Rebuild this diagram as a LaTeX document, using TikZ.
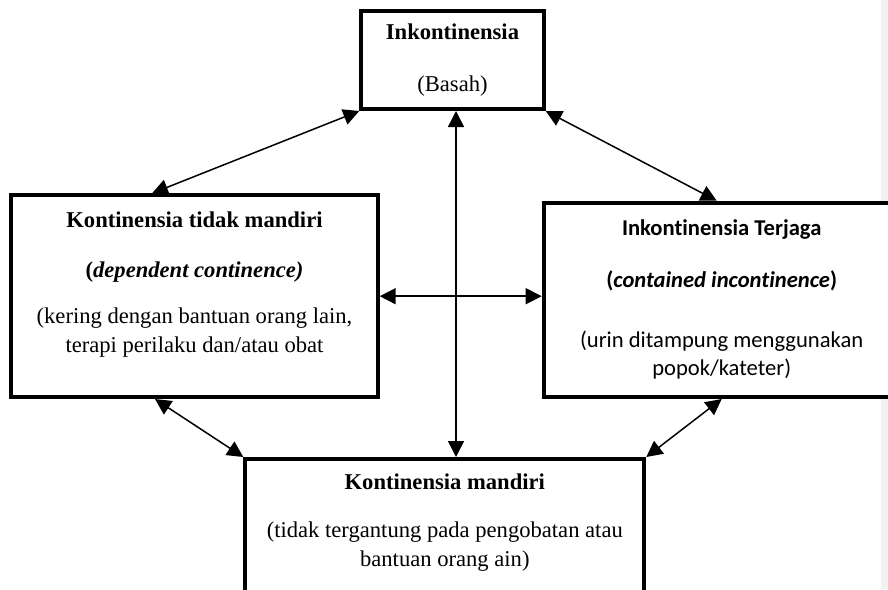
\documentclass[tikz,border=0pt]{standalone}
\usepackage{fontspec}
\setmainfont{Liberation Serif}
\newfontfamily\calibri[Ligatures=NoCommon]{Carlito}
\usetikzlibrary{arrows.meta, positioning}

\begin{document}
\begin{tikzpicture}[
    x=0.5pt, y=-0.5pt,
    box/.style={rectangle, draw=black, line width=2pt, fill=white, align=center, font=\fontsize{11.3}{14.75}\selectfont},
    arrow/.style={{Triangle[length=8pt, width=8pt]}-{Triangle[length=8pt, width=8pt]}, line width=0.75pt}
]
\useasboundingbox (0,0) rectangle (888,589);
\clip (0,0) rectangle (888,589);

% Page edge
\fill[gray!10] (881,0) rectangle (888,589);

% Nodes
\node[box, minimum width=91.2pt, minimum height=49pt] (incont) at (452.5,60) {\textbf{Inkontinensia}\\[11.5pt](Basah)};
\node[box, minimum width=183.2pt, minimum height=100.85pt] (dependent) at (194.5,296.2) {\textbf{Kontinensia tidak mandiri}\\[10.25pt]\textbf{(\textit{dependent continence)}}\\[8pt](kering dengan bantuan orang lain,\\terapi perilaku dan/atau obat\\[-1pt]\mbox{}};
\node[box, font=\calibri\fontsize{11.3}{14}\selectfont, minimum width=178pt, minimum height=97.15pt] (contained) at (721.7,299.85) {\textbf{Inkontinensia Terjaga}\\[12pt]\textbf{(\textit{contained incontinence})}\\[16pt](urin ditampung menggunakan\\popok/kateter)};
\node[box, anchor=north, minimum width=199.5pt, minimum height=80pt] (independent) at (444.8,457) {\textbf{Kontinensia mandiri}\\[9.4pt](tidak tergantung pada pengobatan atau\\bantuan orang ain)\\[4pt]\mbox{}};

% Arrows
\draw[arrow] ([xshift=-21.25pt]dependent.north) -- (incont.south west);
\draw[arrow] (incont.south east) -- ([xshift=-2.5pt]contained.north);
\draw[arrow] (dependent.east) -- (dependent.east -| contained.west);
\draw[arrow] ([xshift=1.75pt]incont.south) -- ([xshift=1.75pt]incont.south |- independent.north);
\draw[arrow] ([xshift=-19.75pt]dependent.south) -- (independent.north west);
\draw[arrow] (contained.south) -- (independent.north east);

\end{tikzpicture}
\end{document}
